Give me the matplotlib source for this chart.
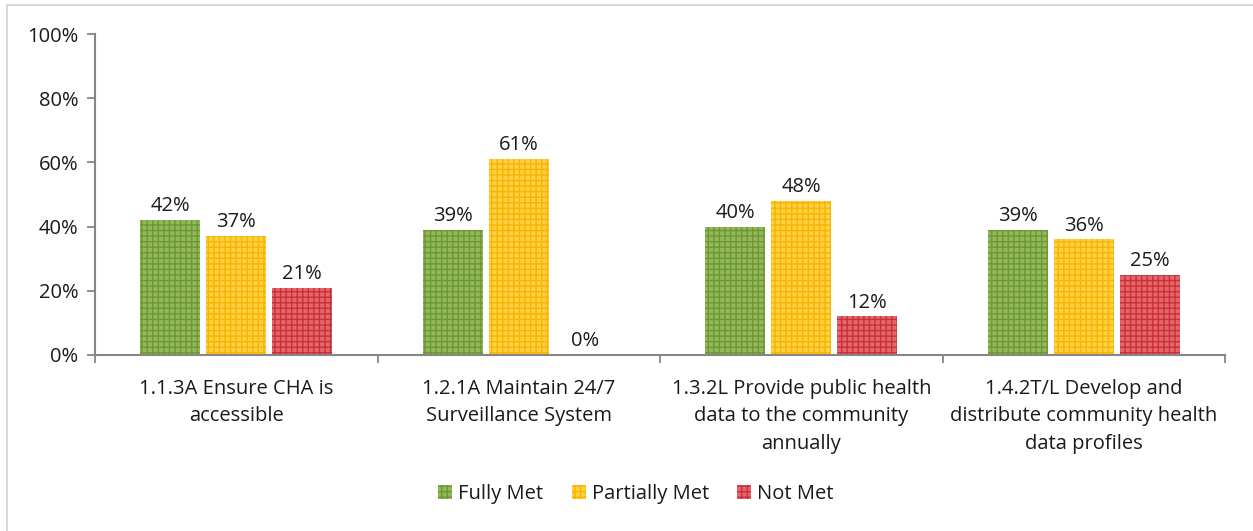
import matplotlib.pyplot as plt
import matplotlib as mpl
import numpy as np

plt.rcParams['font.family'] = ['Open Sans', 'DejaVu Sans']
plt.rcParams['hatch.linewidth'] = 1.0

categories = [
    "1.1.3A Ensure CHA is\naccessible",
    "1.2.1A Maintain 24/7\nSurveillance System",
    "1.3.2L Provide public health\ndata to the community\nannually",
    "1.4.2T/L Develop and\ndistribute community health\ndata profiles",
]
series_names = ["Fully Met", "Partially Met", "Not Met"]
fully_met = [42, 39, 40, 39]
partially_met = [37, 61, 48, 36]
not_met = [21, 0, 12, 25]
y_ticks = [0, 20, 40, 60, 80, 100]

face_colors = ["#93b85b", "#ffcf45", "#e2676c"]
hatch_colors = ["#6c9833", "#f7b500", "#cd2f37"]

FS = 14.5

fig = plt.figure(figsize=(12.53, 5.31), dpi=100)
ax = fig.add_axes([95 / 1253, 1 - 355 / 531, 1130 / 1253, 321 / 531])

x = np.arange(len(categories))
bar_w = 0.212
step = 0.234
values = [fully_met, partially_met, not_met]
for i, (name, vals) in enumerate(zip(series_names, values)):
    pos = x + (i - 1) * step
    bars = ax.bar(pos, vals, width=bar_w, color=face_colors[i],
                  edgecolor=hatch_colors[i], hatch='+++', linewidth=0,
                  label=name)
    for b, v in zip(bars, vals):
        ax.text(b.get_x() + b.get_width() / 2, v + 1.2, f"{v}%",
                ha='center', va='bottom', fontsize=FS, color='#1a1a1a')

ax.set_xlim(-0.5, len(categories) - 0.5)
ax.set_ylim(0, 100)
ax.set_yticks(y_ticks)
ax.set_yticklabels([f"{t}%" for t in y_ticks], fontsize=FS, color='#1a1a1a')
ax.set_xticks(np.arange(-0.5, len(categories), 1.0), minor=False)
ax.set_xticklabels([])
ax.set_xticks(x, minor=True)
ax.set_xticklabels(categories, minor=True, fontsize=FS, color='#1a1a1a',
                   linespacing=1.5, va='top')
ax.tick_params(axis='x', which='minor', length=0, pad=17)
ax.tick_params(axis='x', which='major', length=6, color='#868686', width=1.3)
ax.tick_params(axis='y', length=6, color='#868686', width=1.3, pad=6)

for s in ['top', 'right']:
    ax.spines[s].set_visible(False)
for s in ['left', 'bottom']:
    ax.spines[s].set_color('#868686')
    ax.spines[s].set_linewidth(1.5)

leg = fig.legend(loc='center', bbox_to_anchor=(636 / 1253, 1 - 494 / 531),
                 ncol=3, frameon=False, fontsize=FS, handlelength=0.7,
                 handleheight=0.7, handletextpad=0.3, columnspacing=1.4)
for t in leg.get_texts():
    t.set_color('#1a1a1a')

# outer chart border
fig.add_artist(mpl.patches.Rectangle((7 / 1253, -0.02), 1.1, 1 - 5 / 531 + 0.02,
                                     transform=fig.transFigure, fill=False,
                                     edgecolor='#d9d9d9', linewidth=1.5))

fig.savefig("out.png", dpi=100)
